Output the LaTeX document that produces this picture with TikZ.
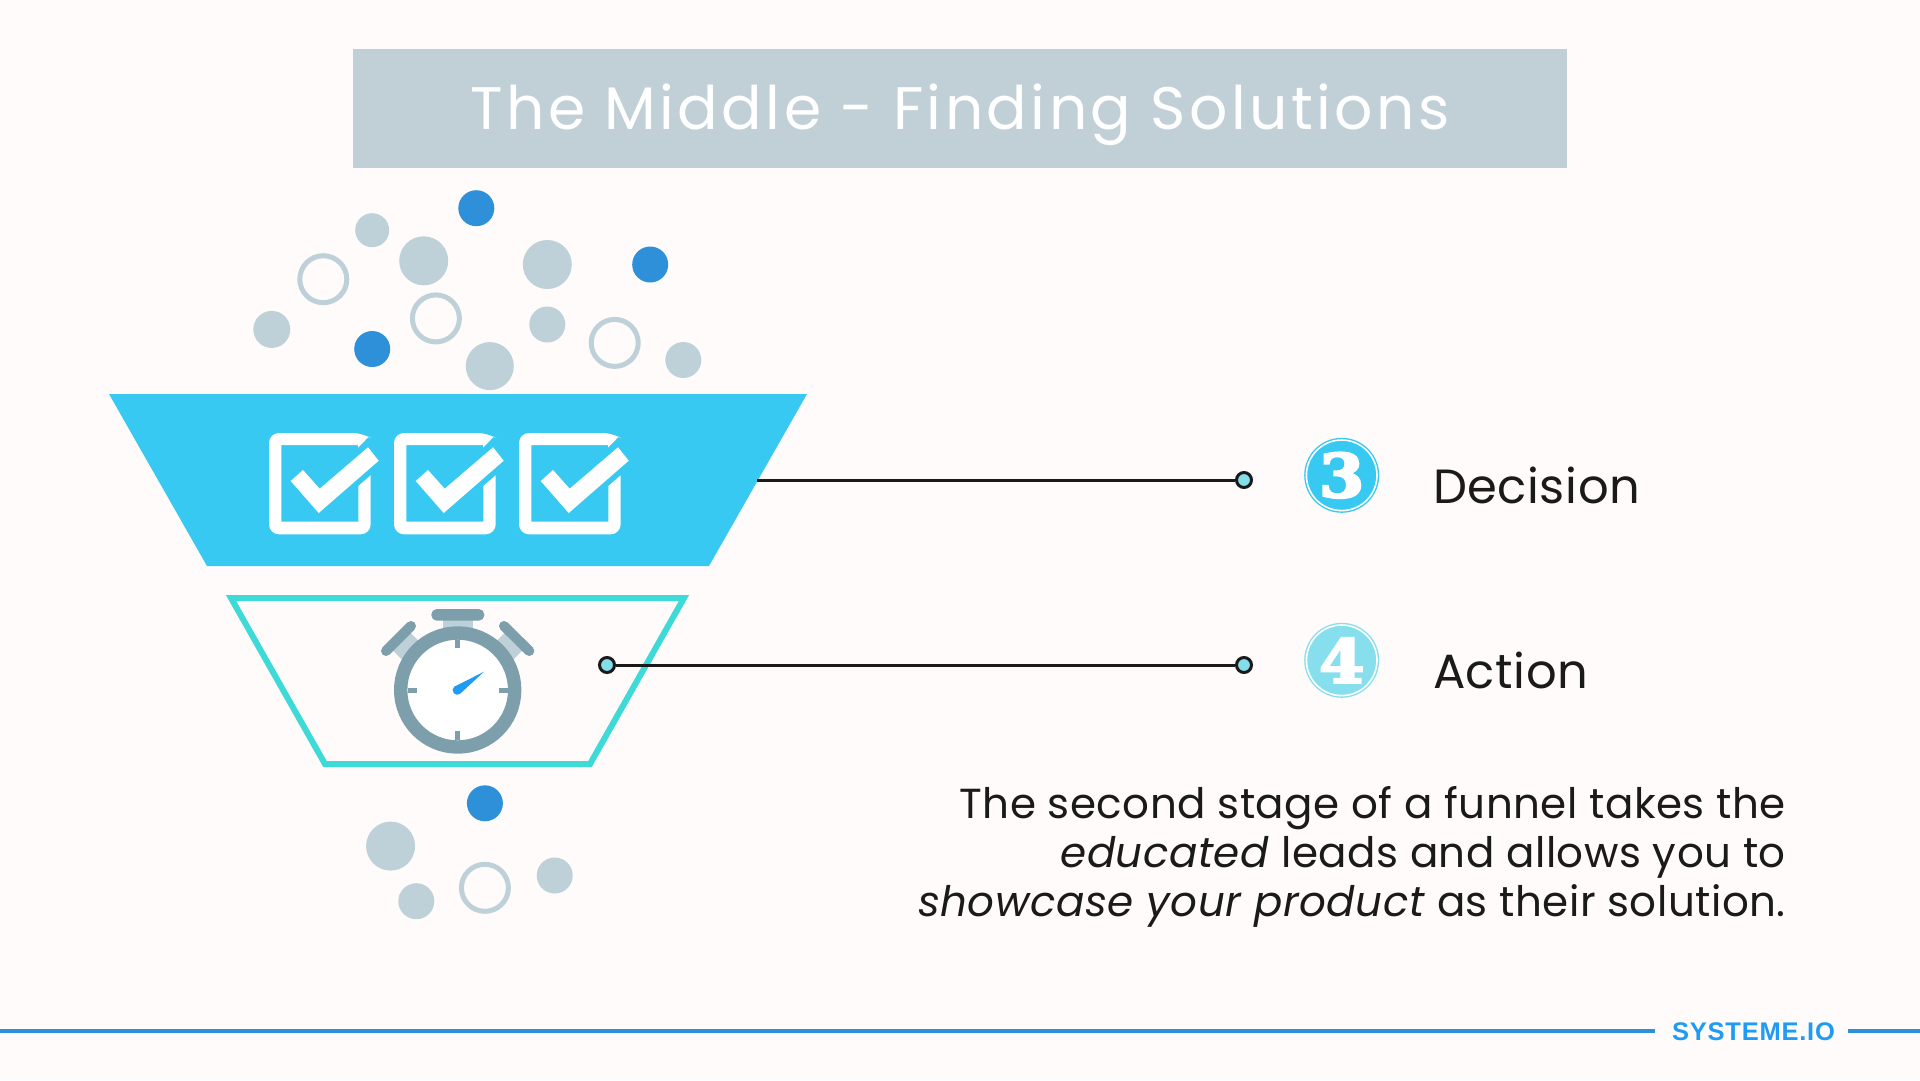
\documentclass[tikz,border=0pt]{standalone}
\usepackage{fontspec}
\setmainfont{Poppins}[LetterSpace=1.2]
\newfontfamily\titlefont{Poppins}[LetterSpace=5.7]
\newfontfamily\digitfont{DejaVu Serif Bold}[FakeBold=4,FakeStretch=1.08]
\newfontfamily\brandfont{Liberation Sans Bold}[LetterSpace=3]
\usetikzlibrary{positioning}
\definecolor{pagebg}{HTML}{FFFBFA}
\definecolor{titlegrey}{HTML}{C1D0D6}
\definecolor{funnelblue}{HTML}{38C9F2}
\definecolor{funnelteal}{HTML}{3DDAD7}
\definecolor{dropblue}{HTML}{2D90D9}
\definecolor{dropgrey}{HTML}{BED0D8}
\definecolor{watchgrey}{HTML}{7D9EAB}
\definecolor{dotcyan}{HTML}{84DDEA}
\definecolor{badgepale}{HTML}{87DFEE}
\definecolor{handblue}{HTML}{1E9BF5}
\definecolor{rulefg}{HTML}{1A1A1A}
\tikzset{
  dropfull/.style={circle,fill=dropgrey,inner sep=0pt,minimum size=#1},
  dropdark/.style={circle,fill=dropblue,inner sep=0pt,minimum size=36pt},
  dropring/.style={circle,draw=dropgrey,line width=5pt,inner sep=0pt,minimum size=47pt},
  enddot/.style={circle,draw=rulefg,fill=dotcyan,line width=3pt,inner sep=0pt,minimum size=15pt},
  badge/.style={circle,fill=#1,inner sep=0pt,minimum size=75pt,text=white,font=\digitfont\fontsize{60}{60}\selectfont},
  stagelabel/.style={anchor=base west,font=\fontsize{48}{50}\selectfont,text=rulefg},
  link/.style={draw=rulefg,line width=3pt},
  watchtick/.style={draw=watchgrey,line width=5pt}
}
\begin{document}
\begin{tikzpicture}[x=1pt,y=-1pt]
\fill[pagebg] (0,0) rectangle (1920,1080);
\useasboundingbox (0,0) rectangle (1920,1080);

\node[fill=titlegrey,minimum width=1214pt,minimum height=119pt,inner sep=0pt] (titlebar) at (960,108.5) {};
\node[inner sep=0pt,text=white,font=\titlefont\fontsize{60}{60}\selectfont,yshift=-6pt] (titletext) at (titlebar) {The Middle - Finding Solutions};

\foreach \dx/\dy/\ds in {372.2/230.2/34,423.7/260.8/49,547.3/264.5/49,271.8/329.4/37,547.3/324.5/36,489.8/366.1/48,683.3/360/36,390.6/846.1/49,554.7/875.5/36,416.3/901.2/36}
  \node[dropfull=\ds pt] at (\dx,\dy) {};
\foreach \dx/\dy in {476.3/208.2,650.2/264.5,372.2/349,484.9/803.3}
  \node[dropdark] at (\dx,\dy) {};
\foreach \dx/\dy in {323.3/279.2,435.9/318.4,614.7/342.9,484.9/887.8}
  \node[dropring] at (\dx,\dy) {};

\fill[funnelblue] (109,394) -- (807,394) -- (709,566) -- (207,566) -- cycle;
\draw[funnelteal,line width=6pt,line join=miter] (231,598) -- (684,598) -- (590,764) -- (325,764) -- cycle;

\foreach \bx in {269,394,519}{
  \begin{scope}[shift={(\bx,433)}]
    \fill[white] (89,14.7) -- (89,12) -- (12.3,12) -- (12.3,88.7) -- (89.3,88.7) -- (89.3,53) -- (101.7,42.3)
      [rounded corners=10pt] -- (101.7,101.3) -- (0,101.3) -- (0,0) -- (94,0) [sharp corners] -- (99.7,3.7) -- cycle;
    \fill[white] (21.7,48) -- (34,37) -- (50.7,55.7) -- (99,14.3) -- (109.7,27.7) -- (49.7,80) -- cycle;
  \end{scope}
}

\draw[dropgrey,line width=25pt] (398.5,638.5) -- (425,665);
\draw[dropgrey,line width=25pt] (516.8,638.5) -- (490,665);
\fill[dropgrey] (442.7,615) rectangle (473.3,640);
\draw[watchgrey,line width=10pt,line cap=round] (411,626) -- (386,651);
\draw[watchgrey,line width=10pt,line cap=round] (504,626) -- (529.3,651);
\fill[watchgrey,rounded corners=5.5pt] (431.3,609) rectangle (484.3,620.7);
\node[circle,fill=white,draw=watchgrey,line width=13.4pt,inner sep=0pt,minimum size=114pt] (watch) at (457.7,690) {};
\draw[watchtick] (457.7,640) -- (457.7,648);
\draw[watchtick] (457.7,731) -- (457.7,740);
\draw[watchtick] (407.7,690) -- (416.7,690);
\draw[watchtick] (499,690) -- (508,690);
\fill[handblue] (484,671.7) -- (460.2,693.7) arc (50:230:4.6) -- cycle;

\coordinate (decisionfoot) at (757,480);
\coordinate (actionfoot) at (607,665);
\node[enddot] (decisionend) at (1244,480) {};
\node[enddot] (actionend) at (1244,665) {};
\node[enddot] (actionstart) at (actionfoot) {};
\draw[link] (decisionfoot) -- (decisionend);
\draw[link] (actionstart) -- (actionend);

\node[badge=funnelblue] (badgethree) at (1341.7,475.3) {3};
\node[badge=badgepale] (badgefour) at (1341.7,660.3) {4};
\draw[white,line width=1.6pt] (badgethree) circle (35.3);
\draw[white,line width=1.6pt] (badgefour) circle (35.3);

\node[stagelabel] (decisionlabel) at (1429.5,503) {Decision};
\node[stagelabel] (actionlabel) at (1429.5,688) {Action};

\node[anchor=base east,align=right,inner sep=0pt,text=rulefg,font=\fontsize{42}{49}\selectfont] (bodytext) at (1786,916) {The second stage of a funnel takes the\\\textit{educated} leads and allows you to\\\textit{showcase your product} as their solution.};

\coordinate (ruleleft) at (0,1031);
\coordinate (ruleright) at (1920,1031);
\node[inner sep=0pt,text=handblue,font=\brandfont\fontsize{25.5}{25.5}\selectfont] (brand) at (1753.5,1032) {SYSTEME.IO};
\draw[dropblue,line width=3.4pt] (ruleleft) -- (1655,1031);
\draw[dropblue,line width=3.4pt] (1848,1031) -- (ruleright);
\end{tikzpicture}
\end{document}
